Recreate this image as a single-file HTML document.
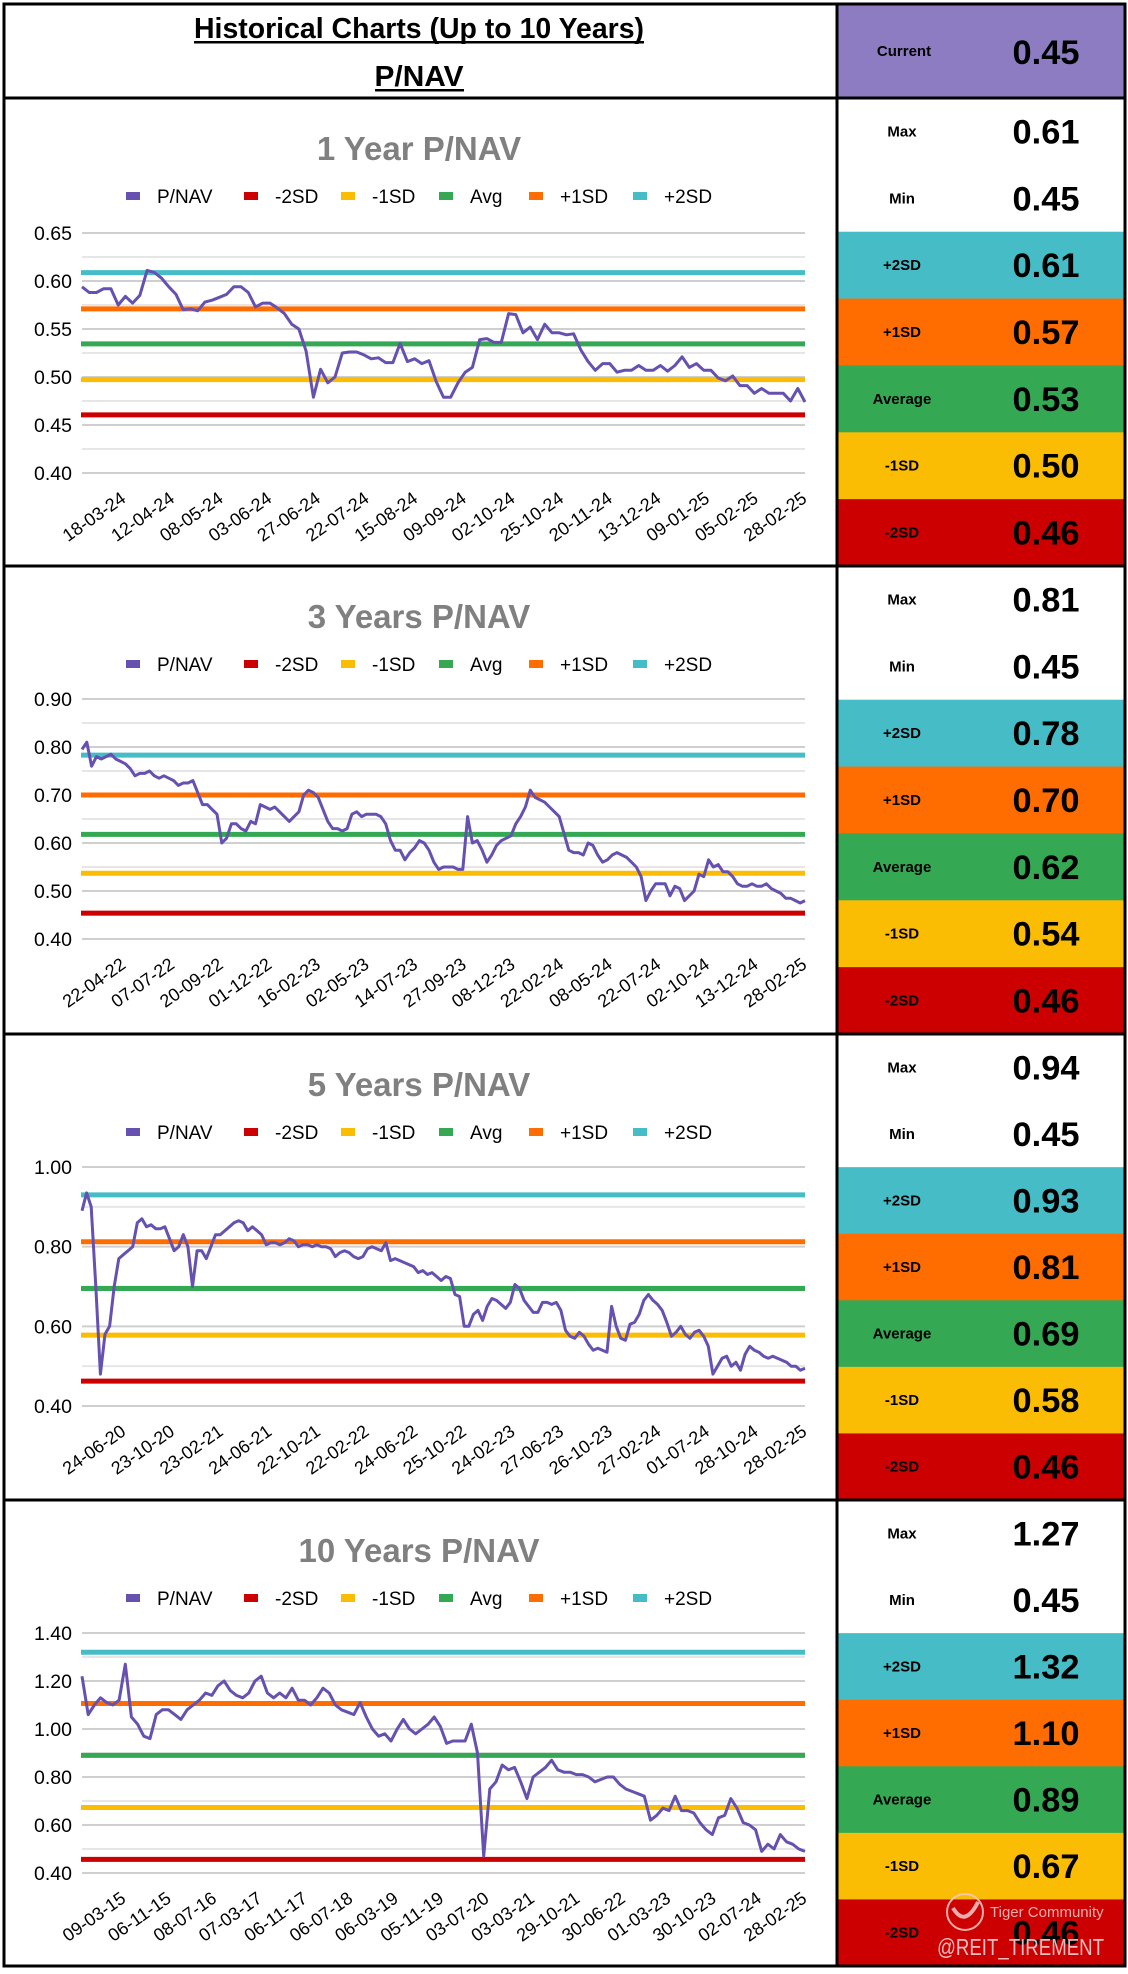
<!DOCTYPE html>
<html><head><meta charset="utf-8">
<style>
html,body{margin:0;padding:0;background:#fff;}
svg{display:block;font-family:"Liberation Sans Narrow","Liberation Sans",sans-serif;}
</style></head>
<body>
<svg id="page" width="1128" height="1974" viewBox="0 0 1128 1974" xmlns="http://www.w3.org/2000/svg">
  <rect x="0" y="0" width="1128" height="1974" fill="#fff"/>
  <g id="header">
    <text x="419" y="38" text-anchor="middle" font-size="29" font-weight="bold" textLength="450" lengthAdjust="spacingAndGlyphs">Historical Charts (Up to 10 Years)</text>
    <rect x="194" y="41" width="450" height="2.5" fill="#000"/>
    <text x="419" y="86" text-anchor="middle" font-size="29" font-weight="bold" textLength="89" lengthAdjust="spacingAndGlyphs">P/NAV</text>
    <rect x="375" y="89" width="89" height="2.5" fill="#000"/>
  </g>
  <g id="charts"></g>
  <g id="panel"></g>
  <g id="frame"></g>
  <g id="watermark" opacity="0.85">
    <circle cx="965" cy="1912" r="18" fill="none" stroke="#f3c9c9" stroke-width="2"/>
    <path d="M953 1908 Q965 1928 978 1902" fill="none" stroke="#f3c9c9" stroke-width="4"/>
    <text x="990" y="1917" font-family="Liberation Sans, sans-serif" font-size="15" fill="#f3c9c9">Tiger Community</text>
    <text x="937" y="1955" font-family="Liberation Sans, sans-serif" font-size="23" fill="#f6dede" textLength="167" lengthAdjust="spacingAndGlyphs">@REIT_TIREMENT</text>
  </g>
</svg>
<script>
// ---------- Chart data ----------
const c1Labels = ["18-03-24","12-04-24","08-05-24","03-06-24","27-06-24","22-07-24","15-08-24","09-09-24","02-10-24","25-10-24","20-11-24","13-12-24","09-01-25","05-02-25","28-02-25"];
const c2Labels = ["22-04-22","07-07-22","20-09-22","01-12-22","16-02-23","02-05-23","14-07-23","27-09-23","08-12-23","22-02-24","08-05-24","22-07-24","02-10-24","13-12-24","28-02-25"];
const c3Labels = ["24-06-20","23-10-20","23-02-21","24-06-21","22-10-21","22-02-22","24-06-22","25-10-22","24-02-23","27-06-23","26-10-23","27-02-24","01-07-24","28-10-24","28-02-25"];
const c4Labels = ["09-03-15","06-11-15","08-07-16","07-03-17","06-11-17","06-07-18","06-03-19","05-11-19","03-07-20","03-03-21","29-10-21","30-06-22","01-03-23","30-10-23","02-07-24","28-02-25"];

const c1YTicks = [0.40,0.45,0.50,0.55,0.60,0.65];
const c2YTicks = [0.40,0.50,0.60,0.70,0.80,0.90];
const c3YTicks = [0.40,0.60,0.80,1.00];
const c4YTicks = [0.40,0.60,0.80,1.00,1.20,1.40];

// bands: -2SD, -1SD, Avg, +1SD, +2SD
const c1Bands = [0.4606,0.4973,0.5345,0.571,0.6087];
const c2Bands = [0.454,0.537,0.618,0.700,0.783];
const c3Bands = [0.4625,0.578,0.695,0.8125,0.93];
const c4Bands = [0.457,0.673,0.89,1.106,1.32];

const c1Values = [0.594,0.588,0.588,0.592,0.592,0.575,0.584,0.577,0.585,0.611,0.609,0.603,0.594,0.586,0.570,0.571,0.569,0.578,0.580,0.583,0.586,0.594,0.594,0.588,0.573,0.577,0.577,0.572,0.566,0.555,0.550,0.527,0.479,0.508,0.494,0.500,0.525,0.526,0.526,0.523,0.519,0.520,0.515,0.515,0.535,0.516,0.519,0.514,0.517,0.495,0.479,0.479,0.494,0.505,0.510,0.539,0.540,0.536,0.536,0.566,0.565,0.546,0.552,0.539,0.555,0.546,0.546,0.544,0.545,0.528,0.516,0.507,0.514,0.514,0.505,0.507,0.507,0.512,0.507,0.507,0.512,0.506,0.512,0.521,0.510,0.514,0.507,0.507,0.499,0.496,0.501,0.491,0.491,0.483,0.488,0.483,0.483,0.483,0.475,0.488,0.474];

const c2Values = [0.795,0.81,0.76,0.78,0.775,0.78,0.785,0.775,0.77,0.765,0.755,0.74,0.745,0.745,0.75,0.74,0.735,0.74,0.735,0.73,0.72,0.725,0.725,0.73,0.705,0.68,0.68,0.67,0.66,0.60,0.61,0.64,0.64,0.63,0.625,0.645,0.64,0.68,0.675,0.67,0.675,0.665,0.655,0.645,0.655,0.665,0.70,0.71,0.705,0.695,0.67,0.645,0.63,0.63,0.625,0.63,0.66,0.665,0.655,0.66,0.66,0.66,0.655,0.64,0.605,0.585,0.585,0.565,0.58,0.59,0.605,0.60,0.585,0.56,0.545,0.55,0.55,0.55,0.545,0.545,0.655,0.60,0.605,0.585,0.56,0.575,0.595,0.605,0.61,0.615,0.64,0.655,0.675,0.71,0.695,0.69,0.685,0.675,0.665,0.655,0.62,0.585,0.58,0.58,0.575,0.60,0.595,0.575,0.56,0.565,0.575,0.58,0.575,0.57,0.56,0.55,0.53,0.48,0.50,0.515,0.515,0.515,0.49,0.51,0.505,0.48,0.49,0.50,0.535,0.53,0.565,0.55,0.555,0.54,0.54,0.53,0.515,0.51,0.51,0.515,0.51,0.51,0.515,0.505,0.50,0.495,0.485,0.485,0.48,0.475,0.48];

const c3Values = [0.89,0.935,0.90,0.70,0.48,0.58,0.60,0.70,0.77,0.78,0.79,0.80,0.86,0.87,0.85,0.855,0.845,0.845,0.85,0.82,0.79,0.80,0.83,0.80,0.70,0.79,0.79,0.77,0.80,0.83,0.83,0.84,0.85,0.86,0.865,0.86,0.84,0.85,0.84,0.83,0.805,0.81,0.81,0.805,0.81,0.82,0.815,0.80,0.805,0.805,0.80,0.805,0.80,0.80,0.795,0.775,0.785,0.79,0.785,0.775,0.77,0.775,0.795,0.80,0.795,0.79,0.81,0.765,0.77,0.765,0.76,0.755,0.75,0.735,0.74,0.73,0.735,0.725,0.715,0.725,0.72,0.68,0.675,0.60,0.60,0.63,0.64,0.615,0.65,0.67,0.665,0.655,0.645,0.66,0.705,0.695,0.665,0.65,0.635,0.635,0.66,0.66,0.655,0.66,0.64,0.59,0.575,0.57,0.585,0.575,0.555,0.54,0.545,0.54,0.535,0.65,0.60,0.57,0.565,0.605,0.61,0.63,0.665,0.68,0.665,0.655,0.64,0.61,0.575,0.585,0.60,0.58,0.57,0.585,0.59,0.575,0.55,0.48,0.50,0.52,0.525,0.50,0.51,0.49,0.53,0.55,0.54,0.535,0.525,0.52,0.525,0.52,0.515,0.51,0.50,0.50,0.49,0.495];

const c4Values = [1.22,1.06,1.10,1.13,1.11,1.10,1.12,1.27,1.05,1.02,0.97,0.96,1.06,1.08,1.08,1.06,1.04,1.08,1.10,1.12,1.15,1.14,1.18,1.20,1.16,1.14,1.13,1.15,1.20,1.22,1.15,1.13,1.15,1.13,1.17,1.12,1.12,1.10,1.13,1.17,1.15,1.10,1.08,1.07,1.06,1.11,1.05,1.00,0.97,0.98,0.95,1.00,1.04,1.00,0.98,1.00,1.02,1.05,1.01,0.94,0.95,0.95,0.95,1.02,0.90,0.47,0.75,0.78,0.85,0.83,0.84,0.78,0.71,0.80,0.82,0.84,0.87,0.83,0.82,0.82,0.81,0.81,0.80,0.78,0.79,0.80,0.80,0.77,0.75,0.74,0.73,0.72,0.62,0.64,0.67,0.66,0.72,0.66,0.66,0.65,0.61,0.58,0.56,0.63,0.64,0.71,0.67,0.61,0.60,0.58,0.49,0.52,0.50,0.56,0.53,0.52,0.50,0.49];

// ---------- Side panel stats ----------
const currentValue = "0.45";
const statLabels = ["Max","Min","+2SD","+1SD","Average","-1SD","-2SD"];
const s1Stats = ["0.61","0.45","0.61","0.57","0.53","0.50","0.46"];
const s2Stats = ["0.81","0.45","0.78","0.70","0.62","0.54","0.46"];
const s3Stats = ["0.94","0.45","0.93","0.81","0.69","0.58","0.46"];
const s4Stats = ["1.27","0.45","1.32","1.10","0.89","0.67","0.46"];

const NS = "http://www.w3.org/2000/svg";
const BAND_COLORS = ["#cc0000","#fbbc04","#34a853","#ff6d01","#46bdc6"];
const BAND_NAMES = ["minus-2sd-line","minus-1sd-line","average-line","plus-1sd-line","plus-2sd-line"];
const CELL_COLORS = ["#ffffff","#ffffff","#46bdc6","#ff6d01","#34a853","#fbbc04","#cc0000"];
const LINE_COLOR = "#6650b0";

function mk(tag, attrs, parent){
  const e = document.createElementNS(NS, tag);
  for (const k in attrs) e.setAttribute(k, attrs[k]);
  if (parent) parent.appendChild(e);
  return e;
}

const rows = [
  {top:98, bottom:566, title:"1 Year P/NAV", labels:c1Labels, ticks:c1YTicks, bands:c1Bands, values:c1Values, stats:s1Stats, pt:135, pb:375, id:"1y"},
  {top:566, bottom:1034, title:"3 Years P/NAV", labels:c2Labels, ticks:c2YTicks, bands:c2Bands, values:c2Values, stats:s2Stats, pt:133, pb:373, id:"3y"},
  {top:1034, bottom:1500, title:"5 Years P/NAV", labels:c3Labels, ticks:c3YTicks, bands:c3Bands, values:c3Values, stats:s3Stats, pt:133, pb:372, id:"5y"},
  {top:1500, bottom:1966, title:"10 Years P/NAV", labels:c4Labels, ticks:c4YTicks, bands:c4Bands, values:c4Values, stats:s4Stats, pt:133, pb:373, id:"10y"}
];

const chartsG = document.getElementById("charts");
const panelG = document.getElementById("panel");
const L = 82, R = 805;

rows.forEach(function(row){
  const g = mk("g", {}, chartsG);
  
  
  const T = row.top;
  const yMin = row.ticks[0], yMax = row.ticks[row.ticks.length-1];
  const top = T + row.pt, bot = T + row.pb;
  const yS = function(v){ return bot - (v - yMin) / (yMax - yMin) * (bot - top); };
  const xS = function(i){ return L + i / (row.values.length - 1) * (R - L); };

  const title = mk("text", {x:419, y:T+62, "text-anchor":"middle", "font-size":33, "font-weight":"bold", fill:"#808080"}, g);
  title.textContent = row.title;
  
  

  const legNames = ["P/NAV","-2SD","-1SD","Avg","+1SD","+2SD"];
  const legColors = [LINE_COLOR].concat(BAND_COLORS);
  const legX = [126,244,341,439,529,633];
  legNames.forEach(function(n, k){
    const lg = mk("g", {}, g);
    
    
    mk("rect", {x:legX[k], y:T+94, width:14, height:8, fill:legColors[k]}, lg);
    const t = mk("text", {x:legX[k]+31, y:T+105, "font-size":19, fill:"#000"}, lg);
    t.textContent = n;
  });

  const step = row.ticks[1] - row.ticks[0];
  for (let k = 0; k < row.ticks.length; k++){
    const v = row.ticks[k];
    const gl = mk("line", {x1:L, x2:R, y1:yS(v), y2:yS(v), stroke:"#cfcfcf", "stroke-width":2}, g);
    
    
    if (k < row.ticks.length - 1){
      const m = v + step/2;
      const ml = mk("line", {x1:L, x2:R, y1:yS(m), y2:yS(m), stroke:"#e6e6e6", "stroke-width":2}, g);
      
      
    }
    const tl = mk("text", {x:72, y:yS(v)+7, "text-anchor":"end", "font-size":19, fill:"#000", textLength:38, lengthAdjust:"spacingAndGlyphs"}, g);
    tl.textContent = v.toFixed(2);
    
    
  }

  row.bands.forEach(function(b, k){
    const bl = mk("line", {x1:L-1, x2:R, y1:yS(b), y2:yS(b), stroke:BAND_COLORS[k], "stroke-width":5}, g);
    
    
  });

  let d = "";
  row.values.forEach(function(v, i){ d += (i ? "L" : "M") + xS(i).toFixed(1) + " " + yS(v).toFixed(1); });
  const p = mk("path", {d:d, fill:"none", stroke:LINE_COLOR, "stroke-width":3, "stroke-linejoin":"round"}, g);
  
  

  const n = row.labels.length;
  const e0 = L + 50, e1 = R + 8;
  row.labels.forEach(function(lab, j){
    const ex = e0 + j * (e1 - e0) / (n - 1) - 5;
    const ey = bot + 28;
    const t = mk("text", {x:ex, y:ey, "text-anchor":"end", "font-size":18, fill:"#000", textLength:72, lengthAdjust:"spacingAndGlyphs", transform:"rotate(-35 " + ex + " " + ey + ")"}, g);
    t.textContent = lab;
    
    
  });

  const ch = (row.bottom - row.top) / 7;
  statLabels.forEach(function(lab, k){
    const cy = row.top + k * ch;
    const cell = mk("g", {}, panelG);
    
    
    mk("rect", {x:837, y:cy, width:288, height:ch+0.5, fill:CELL_COLORS[k]}, cell);
    const lt = mk("text", {x:902, y:cy+ch/2+5, "text-anchor":"middle", "font-size":15, "font-weight":"bold", fill:"#000"}, cell);
    lt.textContent = lab;
    const vt = mk("text", {x:1046, y:cy+ch/2+12, "text-anchor":"middle", "font-size":34, "font-weight":"bold", fill:"#000", textLength:67, lengthAdjust:"spacingAndGlyphs"}, cell);
    vt.textContent = row.stats[k];
  });
});

const cur = mk("g", {}, panelG);


mk("rect", {x:837, y:4, width:288, height:94, fill:"#8e7cc3"}, cur);
const ctl = mk("text", {x:904, y:56, "text-anchor":"middle", "font-size":15, "font-weight":"bold", fill:"#000"}, cur);
ctl.textContent = "Current";
const ctv = mk("text", {x:1046, y:64, "text-anchor":"middle", "font-size":34, "font-weight":"bold", fill:"#000", textLength:67, lengthAdjust:"spacingAndGlyphs"}, cur);
ctv.textContent = currentValue;

const fr = document.getElementById("frame");
mk("rect", {x:4, y:4, width:1121, height:1962, fill:"none", stroke:"#000", "stroke-width":3}, fr);
mk("line", {x1:837, x2:837, y1:4, y2:1966, stroke:"#000", "stroke-width":3}, fr);
[98,566,1034,1500].forEach(function(y){
  mk("line", {x1:4, x2:1125, y1:y, y2:y, stroke:"#000", "stroke-width":3}, fr);
});
</script>
</body></html>
